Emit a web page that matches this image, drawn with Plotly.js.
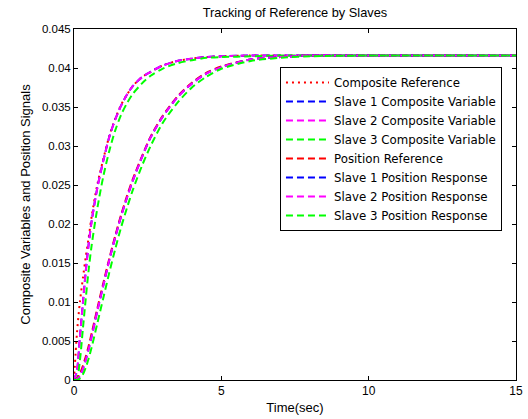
<!DOCTYPE html>
<html>
<head>
<meta charset="utf-8">
<script src="https://cdn.plot.ly/plotly-3.0.1.min.js"></script>
<style>html,body{margin:0;padding:0;background:#fff;}#chart{width:528px;height:419px;}</style>
</head>
<body>
<div id="chart"></div>
<script>
// Time samples (sec)
const timeSec = [0, 0.1, 0.2, 0.3, 0.4, 0.5, 0.6, 0.8, 1.0, 1.2, 1.4, 1.6, 1.8, 2.0, 2.3, 2.6, 3.0, 3.5, 4.0, 4.5, 5.0, 6.0, 7.0, 8.0, 10.0, 12.0, 15.0];

// Composite variables
const compositeRef = [0, 0.0060, 0.0100, 0.0130, 0.0158, 0.0183, 0.0210, 0.0252, 0.0284, 0.0313, 0.0335, 0.0353, 0.0366, 0.0377, 0.0388, 0.0395, 0.0403, 0.0409, 0.0412, 0.0414, 0.0415, 0.0416, 0.0416, 0.0416, 0.0416, 0.0416, 0.0416];
const slave1Composite = [0, 0.0012, 0.0055, 0.0098, 0.0140, 0.0175, 0.0204, 0.0248, 0.0282, 0.0312, 0.0334, 0.0352, 0.0366, 0.0377, 0.0388, 0.0395, 0.0403, 0.0409, 0.0412, 0.0414, 0.0415, 0.0416, 0.0416, 0.0416, 0.0416, 0.0416, 0.0416];
const slave2Composite = [0, 0.0012, 0.0055, 0.0098, 0.0140, 0.0175, 0.0204, 0.0248, 0.0282, 0.0312, 0.0334, 0.0352, 0.0366, 0.0377, 0.0388, 0.0395, 0.0403, 0.0409, 0.0412, 0.0414, 0.0415, 0.0416, 0.0416, 0.0416, 0.0416, 0.0416, 0.0416];
const slave3Composite = [0, 0.0002, 0.0025, 0.0065, 0.0105, 0.0142, 0.0173, 0.0222, 0.0262, 0.0294, 0.0320, 0.0340, 0.0355, 0.0367, 0.0380, 0.0390, 0.0399, 0.0406, 0.0410, 0.0413, 0.0414, 0.0415, 0.0416, 0.0416, 0.0416, 0.0416, 0.0416];

// Position signals
const positionRef = [0, 0.0002, 0.0008, 0.0018, 0.0030, 0.0044, 0.0060, 0.0093, 0.0125, 0.0156, 0.0185, 0.0212, 0.0236, 0.0258, 0.0286, 0.0312, 0.0338, 0.0363, 0.0381, 0.0394, 0.0402, 0.0411, 0.0414, 0.0416, 0.0416, 0.0416, 0.0416];
const slave1Position = [0, 0.0001, 0.0005, 0.0014, 0.0026, 0.0040, 0.0056, 0.0090, 0.0122, 0.0154, 0.0183, 0.0210, 0.0234, 0.0256, 0.0285, 0.0311, 0.0337, 0.0362, 0.0380, 0.0393, 0.0401, 0.0411, 0.0414, 0.0416, 0.0416, 0.0416, 0.0416];
const slave2Position = [0, 0.0001, 0.0005, 0.0014, 0.0026, 0.0040, 0.0056, 0.0090, 0.0122, 0.0154, 0.0183, 0.0210, 0.0234, 0.0256, 0.0285, 0.0311, 0.0337, 0.0362, 0.0380, 0.0393, 0.0401, 0.0411, 0.0414, 0.0416, 0.0416, 0.0416, 0.0416];
const slave3Position = [0, 0.0000, 0.0002, 0.0007, 0.0016, 0.0028, 0.0042, 0.0074, 0.0106, 0.0138, 0.0168, 0.0196, 0.0221, 0.0244, 0.0274, 0.0300, 0.0329, 0.0355, 0.0375, 0.0389, 0.0399, 0.0409, 0.0413, 0.0415, 0.0416, 0.0416, 0.0416];

const seriesNames = ["Composite Reference", "Slave 1 Composite Variable", "Slave 2 Composite Variable", "Slave 3 Composite Variable", "Position Reference", "Slave 1 Position Response", "Slave 2 Position Response", "Slave 3 Position Response"];
const seriesData = [compositeRef, slave1Composite, slave2Composite, slave3Composite, positionRef, slave1Position, slave2Position, slave3Position];
const seriesColors = ["#ff0000", "#0000ff", "#ff00ff", "#00ff00", "#ff0000", "#0000ff", "#ff00ff", "#00ff00"];
const seriesDash = ["2px,4px", "7px,4px", "7px,4px", "7px,4px", "7px,4px", "7px,4px", "7px,4px", "7px,4px"];

const xTickVals = [0, 5, 10, 15];
const xTickText = ["0", "5", "10", "15"];
const yTickVals = [0, 0.005, 0.01, 0.015, 0.02, 0.025, 0.03, 0.035, 0.04, 0.045];
const yTickText = ["0", "0.005", "0.01", "0.015", "0.02", "0.025", "0.03", "0.035", "0.04", "0.045"];

const traces = seriesNames.map((name, i) => ({
  x: timeSec,
  y: seriesData[i],
  name: name,
  type: "scatter",
  mode: "lines",
  line: {color: seriesColors[i], width: 2, dash: seriesDash[i], shape: "spline", smoothing: 0.8}
}));

const fam = "Liberation Sans, Arial, sans-serif";

const layout = {
  width: 528, height: 419,
  paper_bgcolor: "#fff", plot_bgcolor: "#fff",
  font: {family: fam, color: "#000", size: 12},
  margin: {l: 74, r: 12, t: 29, b: 39, pad: 0},
  title: {text: "Tracking of Reference by Slaves", font: {family: fam, size: 12.8, color: "#000"}, x: 0.5, xref: "paper", y: 1 - 13/419, yref: "container", yanchor: "middle"},
  xaxis: {
    range: [0, 15], tickvals: xTickVals, ticktext: xTickText,
    ticks: "inside", ticklen: 4, tickcolor: "#000",
    showline: true, linecolor: "#000", linewidth: 1, mirror: "ticks",
    showgrid: false, zeroline: false, tickfont: {size: 12},
    title: {text: "Time(sec)", font: {size: 13}, standoff: 5}
  },
  yaxis: {
    range: [0, 0.045], tickvals: yTickVals, ticktext: yTickText,
    ticks: "inside", ticklen: 4, tickcolor: "#000",
    showline: true, linecolor: "#000", linewidth: 1, mirror: "ticks",
    showgrid: false, zeroline: false, tickfont: {size: 11.5},
    title: {text: "Composite Variables and Position Signals", font: {size: 13}, standoff: 8}
  },
  showlegend: true,
  legend: {
    x: 0.466, y: 0.892, xanchor: "left", yanchor: "top",
    bgcolor: "#fff", bordercolor: "#000", borderwidth: 1,
    itemwidth: 43,
    font: {family: "DejaVu Sans, sans-serif", size: 11.8}, tracegroupgap: 0
  }
};

Plotly.newPlot("chart", traces, layout, {displayModeBar: false, staticPlot: true});
</script>
</body>
</html>
